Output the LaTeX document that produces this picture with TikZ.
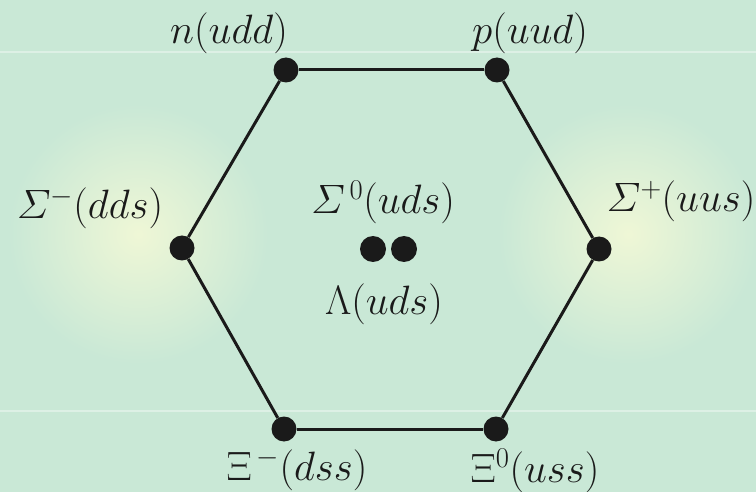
\RequirePackage{fix-cm}
\documentclass[tikz,border=0pt]{standalone}
\usepackage{amsmath}
\definecolor{bgmint}{RGB}{201,232,214}
\definecolor{glow}{RGB}{239,247,214}
\definecolor{band}{RGB}{221,240,229}
\definecolor{ink}{RGB}{26,26,26}
\begin{document}
\begin{tikzpicture}[x=1pt,y=-1pt,
  every node/.style={font=\fontsize{41}{46}\selectfont},
  vertex/.style={circle,fill=ink,inner sep=0pt,minimum size=25pt},
  hyperon/.style={anchor=base,inner sep=0pt,text=ink},
  edge/.style={draw=ink,line width=3pt}]
  % Fondo
  \useasboundingbox (0,0) rectangle (756,492);
  \fill[bgmint] (0,0) rectangle (756,492);
  \shade[inner color=glow,outer color=bgmint] (138,234) circle (130pt);
  \shade[inner color=glow,outer color=bgmint] (628,234) circle (130pt);
  \draw[band,line width=2pt] (0,52) -- (756,52);
  \draw[band,line width=2pt] (0,411) -- (756,411);

  % Vertices del hexagono
  \node[vertex] (n) at (286,70) {};
  \node[vertex] (p) at (497,70) {};
  \node[vertex] (sp) at (599,249) {};
  \node[vertex] (xz) at (496,429) {};
  \node[vertex] (xm) at (284,429) {};
  \node[vertex] (sm) at (182,248) {};

  % Centro
  \node[vertex,minimum size=26pt] (sz) at (373,249) {};
  \node[vertex,minimum size=26pt] (lam) at (404,249) {};

  % Aristas del hexagono
  \foreach \from/\to in {n/p, p/sp, sp/xz, xz/xm, xm/sm, sm/n}
    \draw[edge] (\from) -- (\to);

  % Etiquetas
  \node[hyperon] (nl) at (229,44) {$n(udd)$};
  \node[hyperon] (pl) at (530,44) {$p(uud)$};
  \node[hyperon] (sml) at (90,219) {$\varSigma^{-}(dds)$};
  \node[hyperon] (spl) at (681,212) {$\varSigma^{+}(uus)$};
  \node[hyperon] (szl) at (383,214) {$\varSigma^{\,0}(uds)$};
  \node[hyperon] (laml) at (384,315) {$\Lambda(uds)$};
  \node[hyperon] (xml) at (297,480) {$\Xi^{\,-}(dss)$};
  \node[hyperon] (xzl) at (535,482) {$\Xi^{0}(uss)$};
\end{tikzpicture}
\end{document}
